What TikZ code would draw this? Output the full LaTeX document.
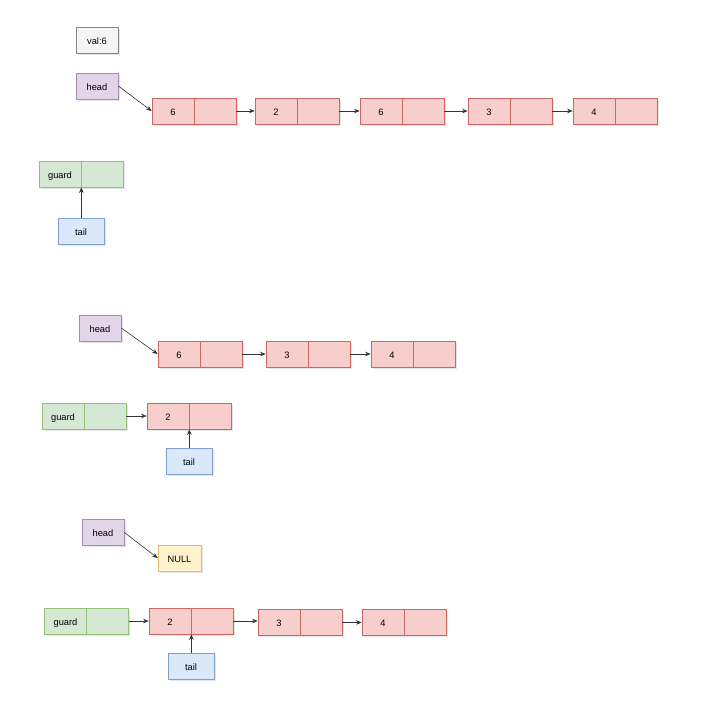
\documentclass[tikz,border=0pt]{standalone}
\usepackage{fontspec}
\setmainfont{Liberation Sans}
\usetikzlibrary{arrows.meta,shadows}
\definecolor{redF}{HTML}{F8CECC}\definecolor{redS}{HTML}{C86864}
\definecolor{grnF}{HTML}{D5E8D4}\definecolor{grnS}{HTML}{94C07A}
\definecolor{bluF}{HTML}{DAE8FC}\definecolor{bluS}{HTML}{809FCC}
\definecolor{purF}{HTML}{E1D5E7}\definecolor{purS}{HTML}{A88AB6}
\definecolor{yelF}{HTML}{FFF2CC}\definecolor{yelS}{HTML}{DCC070}
\definecolor{gryF}{HTML}{F5F5F5}\definecolor{gryS}{HTML}{858585}
\definecolor{edge}{HTML}{333333}
\tikzset{
  box/.style={draw, line width=0.7pt, inner sep=0pt, minimum height=26pt,
    text height=8.5pt, text depth=0.5pt, font=\fontsize{9.3}{10}\selectfont,
    drop shadow={shadow xshift=1.5pt, shadow yshift=-1.5pt, opacity=0.1, fill=black}},
  half/.style={box, minimum width=42pt},
  rbox/.style={half, fill=redF, draw=redS},
  gbox/.style={half, fill=grnF, draw=grnS},
  ptr/.style={box, minimum width=42pt, fill=purF, draw=purS},
  tbox/.style={box, minimum width=46pt, fill=bluF, draw=bluS},
  nbox/.style={box, minimum width=43pt, fill=yelF, draw=yelS},
  vbox/.style={box, minimum width=42pt, fill=gryF, draw=gryS},
  link/.style={draw=edge, line width=0.6pt, -{Stealth[length=5.5pt,width=4.5pt]}}
}
\begin{document}
\begin{tikzpicture}[x=1pt,y=-1pt]
\useasboundingbox (0,0) rectangle (724,718);
% ---------- section 1
\node[vbox] (val) at (97,40) {val:6};
\node[ptr] (h1) at (97,86) {head};
\node[rbox] (a1a) at (173,111) {6}; \node[rbox] (a1b) at (215,111) {};
\node[rbox] (a2a) at (276,111) {2}; \node[rbox] (a2b) at (318,111) {};
\node[rbox] (a3a) at (381,111) {6}; \node[rbox] (a3b) at (423,111) {};
\node[rbox] (a4a) at (489,111) {3}; \node[rbox] (a4b) at (531,111) {};
\node[rbox] (a5a) at (594,111) {4}; \node[rbox] (a5b) at (636,111) {};
\node[gbox] (g1a) at (60,174) {guard}; \node[gbox] (g1b) at (102,174) {};
\node[tbox] (t1) at (81,231.5) {tail};
\draw[link] (h1.east) -- (a1a.west);
\draw[link] (a1b.east) -- (a2a.west);
\draw[link] (a2b.east) -- (a3a.west);
\draw[link] (a3b.east) -- (a4a.west);
\draw[link] (a4b.east) -- (a5a.west);
\draw[link] (g1a.south east |- t1.north) -- (g1a.south east);
% ---------- section 2
\node[ptr] (h2) at (100,328) {head};
\node[rbox] (b1a) at (179,354) {6}; \node[rbox] (b1b) at (221,354) {};
\node[rbox] (b2a) at (287,354) {3}; \node[rbox] (b2b) at (329,354) {};
\node[rbox] (b3a) at (392,354) {4}; \node[rbox] (b3b) at (434,354) {};
\node[gbox] (g2a) at (63,416) {guard}; \node[gbox] (g2b) at (105,416) {};
\node[rbox] (c1a) at (168,416) {2}; \node[rbox] (c1b) at (210,416) {};
\node[tbox] (t2) at (189,461) {tail};
\draw[link] (h2.east) -- (b1a.west);
\draw[link] (b1b.east) -- (b2a.west);
\draw[link] (b2b.east) -- (b3a.west);
\draw[link] (g2b.east) -- (c1a.west);
\draw[link] (c1a.south east |- t2.north) -- (c1a.south east);
% ---------- section 3
\node[ptr] (h3) at (103,532.5) {head};
\node[nbox] (nul) at (179.5,558) {NULL};
\node[gbox] (g3a) at (65.5,621) {guard}; \node[gbox] (g3b) at (107.5,621) {};
\node[rbox] (d1a) at (170,621) {2}; \node[rbox] (d1b) at (212,621) {};
\node[rbox] (d2a) at (279,622.5) {3}; \node[rbox] (d2b) at (321,622.5) {};
\node[rbox] (d3a) at (383,622.5) {4}; \node[rbox] (d3b) at (425,622.5) {};
\node[tbox] (t3) at (191,666) {tail};
\draw[link] (h3.east) -- (nul.west);
\draw[link] (g3b.east) -- (d1a.west);
\draw[link] (d1b.east) -- (d2a.west |- d1b.east);
\draw[link] (d2b.east) -- (d3a.west);
\draw[link] (d1a.south east |- t3.north) -- (d1a.south east);
\end{tikzpicture}
\end{document}
